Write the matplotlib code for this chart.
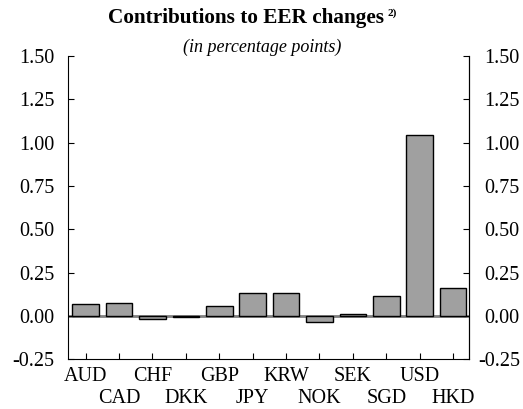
import matplotlib
matplotlib.use("Agg")
import matplotlib.pyplot as plt
import numpy as np

categories = ["AUD", "CAD", "CHF", "DKK", "GBP", "JPY", "KRW", "NOK", "SEK", "SGD", "USD", "HKD"]
values = [0.068, 0.073, -0.02, -0.005, 0.056, 0.131, 0.131, -0.035, 0.013, 0.114, 1.045, 0.16]
yticks = [-0.25, 0.00, 0.25, 0.50, 0.75, 1.00, 1.25, 1.50]

plt.rcParams['font.family'] = ['Liberation Serif', 'DejaVu Serif']
plt.rcParams['axes.unicode_minus'] = False

fig = plt.figure(figsize=(5.23, 4.09), dpi=100)
ax = fig.add_axes([0.130, 0.122, 0.767, 0.741])

x = np.arange(len(categories))
ax.axhline(0, color='#808080', lw=2, zorder=1)
ax.bar(x, values, width=0.8, color='#a0a0a0', edgecolor='black', linewidth=1.0, zorder=2)

ax.set_xlim(-0.53, 11.48)
ax.set_ylim(-0.25, 1.50)
ylabels = [f"{v:.2f}" for v in yticks]
ax.set_yticks(yticks)
ax.set_yticklabels(ylabels)

# alternate label rows: even categories on major ticks, odd on minor ticks
ax.set_xticks(x[0::2])
ax.set_xticklabels(categories[0::2])
ax.set_xticks(x[1::2], minor=True)
ax.set_xticklabels(categories[1::2], minor=True)

ax.spines['top'].set_visible(False)
for s in ['left', 'right', 'bottom']:
    ax.spines[s].set_linewidth(0.8)

ax.tick_params(axis='both', which='both', direction='in', length=4, width=0.8, labelsize=14.5)
ax.tick_params(axis='y', left=True, right=True, labelleft=True, labelright=False, pad=10)
ax.tick_params(axis='x', which='major', pad=6)
ax.tick_params(axis='x', which='minor', pad=21.8)

# right-hand labels, right-aligned near the figure edge
sec = ax.secondary_yaxis('right')
sec.set_yticks(yticks)
sec.set_yticklabels(ylabels)
sec.spines['right'].set_linewidth(0.8)
sec.tick_params(axis='y', direction='in', length=0, labelsize=14.5, pad=36.5)
for lab in sec.get_yticklabels():
    lab.set_horizontalalignment('right')

title = fig.text(0.470, 0.955, "Contributions to EER changes", ha='center', va='center',
                 fontsize=15.3, fontweight='bold')
fig.canvas.draw()
bb = title.get_window_extent()
fig.text((bb.x1 + 4) / fig.bbox.width, 0.968, "2)", ha='left', va='center',
         fontsize=8, fontweight='bold')
fig.text(0.501, 0.885, "(in percentage points)", ha='center', va='center',
         fontsize=13, style='italic')

fig.savefig("out.png", dpi=100)
